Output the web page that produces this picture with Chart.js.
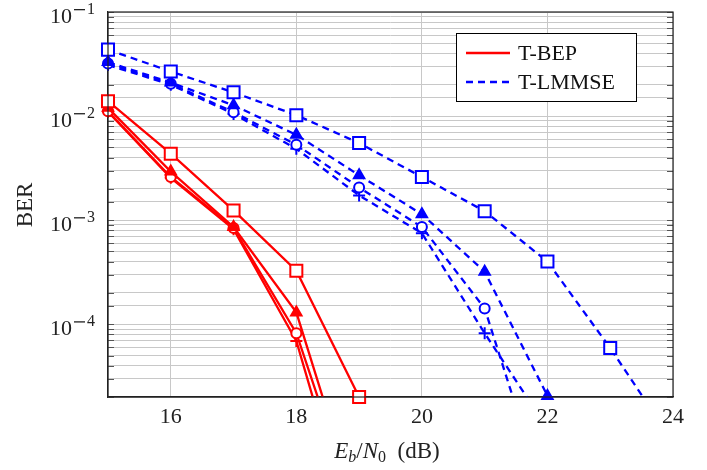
<!DOCTYPE html>
<html>
<head>
<meta charset="utf-8">
<script src="https://cdn.jsdelivr.net/npm/chart.js@4.4.1/dist/chart.umd.min.js"></script>
<style>
  html, body { margin: 0; padding: 0; background: #fff; }
  #wrap { width: 707px; height: 470px; }
</style>
</head>
<body>
<div id="wrap"><canvas id="ber"></canvas></div>
<script>
// Eb/N0 (dB)
const snrBep = [15, 16, 17, 18, 19];
const snrLmmse = [15, 16, 17, 18, 19, 20, 21, 22, 23, 24];

// T-BEP (solid red)
const bepSquare = [1.39e-2, 4.35e-3, 1.24e-3, 3.27e-4, 2.0e-5];
const bepTriangle = [1.2e-2, 2.93e-3, 8.6e-4, 1.3e-4, 1.5e-6];
const bepCircle = [1.11e-2, 2.6e-3, 8.4e-4, 8.2e-5, 1.3e-6];
const bepPlus = [1.1e-2, 2.55e-3, 8.2e-4, 6.9e-5, 6e-7];

// T-LMMSE (dashed blue)
const lmmseSquare = [4.35e-2, 2.68e-2, 1.69e-2, 1.02e-2, 5.5e-3, 2.6e-3, 1.22e-3, 4.0e-4, 5.9e-5, 7.4e-6];
const lmmseTriangle = [3.3e-2, 2.1e-2, 1.27e-2, 6.6e-3, 2.7e-3, 1.14e-3, 3.2e-4, 2.05e-5];
const lmmseCircle = [3.2e-2, 2.05e-2, 1.09e-2, 5.3e-3, 2.06e-3, 8.6e-4, 1.42e-4, 1.8e-6];
const lmmsePlus = [3.1e-2, 2.0e-2, 1.05e-2, 4.85e-3, 1.73e-3, 7.5e-4, 8.2e-5, 1.0e-5];

const xTicks = [16, 18, 20, 22, 24];
const yDecades = [-1, -2, -3, -4];
const legendNames = ["T-BEP", "T-LMMSE"];

const RED = "#ff0000";
const BLUE = "#0000ff";
const SERIF = "'Liberation Serif', 'DejaVu Serif', serif";

function pts(xs, ys) {
  return ys.map((y, i) => ({ x: xs[i], y: y }));
}

function series(xs, ys, color, dashed, style, clipBottom) {
  let r = 6, fill = "#fff";
  if (style === "rect") r = 8.5;
  if (style === "circle") r = 5;
  if (style === "triangle") { r = 6; fill = color; }
  return {
    data: pts(xs, ys),
    borderColor: color,
    backgroundColor: fill,
    borderWidth: 2.3,
    borderDash: dashed ? [7, 5] : [],
    pointStyle: style,
    pointRadius: r,
    pointHoverRadius: r,
    pointBorderWidth: 2,
    pointBorderColor: color,
    pointBackgroundColor: fill,
    tension: 0,
    fill: false,
    clip: clipBottom ? { left: 12, top: 12, right: 12, bottom: 0 } : false
  };
}

const datasets = [
  series(snrLmmse, lmmseSquare, BLUE, true, "rect", true),
  series(snrLmmse.slice(0, 8), lmmseTriangle, BLUE, true, "triangle", false),
  series(snrLmmse.slice(0, 8), lmmseCircle, BLUE, true, "circle", true),
  series(snrLmmse.slice(0, 8), lmmsePlus, BLUE, true, "cross", true),
  series(snrBep, bepSquare, RED, false, "rect", false),
  series(snrBep, bepTriangle, RED, false, "triangle", true),
  series(snrBep, bepCircle, RED, false, "circle", true),
  series(snrBep, bepPlus, RED, false, "cross", true)
];

const decorations = {
  id: "decorations",
  beforeDatasetsDraw(chart) {
    const ctx = chart.ctx;
    const a = chart.chartArea;
    const y = chart.scales.y;
    // inward minor ticks on left and right edges
    ctx.save();
    ctx.strokeStyle = "#555";
    ctx.lineWidth = 1;
    y.ticks.forEach(t => {
      const py = Math.round(y.getPixelForValue(t.value)) + 0.5;
      const len = Number.isInteger(Math.log10(t.value) + 1e-9) ? 0 : 6;
      if (!len) return;
      ctx.beginPath();
      ctx.moveTo(a.left, py); ctx.lineTo(a.left + len, py);
      ctx.moveTo(a.right, py); ctx.lineTo(a.right - len, py);
      ctx.stroke();
    });
    ctx.restore();
  },
  afterDraw(chart) {
    const ctx = chart.ctx;
    const a = chart.chartArea;
    const y = chart.scales.y;
    ctx.save();
    // frame
    ctx.strokeStyle = "#222";
    ctx.lineWidth = 1.2;
    ctx.strokeRect(a.left, a.top, a.right - a.left, a.bottom - a.top);

    // y tick labels 10^k
    ctx.fillStyle = "#222";
    yDecades.forEach(k => {
      const py = y.getPixelForValue(Math.pow(10, k));
      ctx.textBaseline = "alphabetic";
      ctx.font = "22px " + SERIF;
      ctx.textAlign = "right";
      ctx.fillText("10", 72, py + 11);
      ctx.font = "16px " + SERIF;
      ctx.textAlign = "left";
      ctx.fillRect(74, py - 3, 11, 1.3); // minus sign
      ctx.fillText(String(-k), 87, py + 2);
    });

    // y axis title
    ctx.save();
    ctx.translate(32, 205);
    ctx.rotate(-Math.PI / 2);
    ctx.font = "23px " + SERIF;
    ctx.textAlign = "center";
    ctx.textBaseline = "alphabetic";
    ctx.fillText("BER", 0, 0);
    ctx.restore();

    // x axis title  E_b/N_0 (dB)
    const parts = [
      { t: "E", f: "italic 23px " + SERIF, dy: 0 },
      { t: "b", f: "italic 16px " + SERIF, dy: 4 },
      { t: "/", f: "23px " + SERIF, dy: 0 },
      { t: "N", f: "italic 23px " + SERIF, dy: 0 },
      { t: "0", f: "16px " + SERIF, dy: 4 },
      { t: "  (dB)", f: "23px " + SERIF, dy: 0 }
    ];
    let total = 0;
    parts.forEach(p => { ctx.font = p.f; p.w = ctx.measureText(p.t).width; total += p.w; });
    let px = 387 - total / 2;
    ctx.textAlign = "left";
    parts.forEach(p => {
      ctx.font = p.f;
      ctx.fillText(p.t, px, 458 + p.dy);
      px += p.w;
    });

    // legend
    const lx = 456, ly = 33, lw = 180, lh = 68;
    ctx.fillStyle = "#fff";
    ctx.fillRect(lx, ly, lw, lh);
    ctx.strokeStyle = "#000";
    ctx.lineWidth = 1;
    ctx.strokeRect(lx + 0.5, ly + 0.5, lw, lh);
    const rows = [
      { name: legendNames[0], color: RED, dash: [], y: 53 },
      { name: legendNames[1], color: BLUE, dash: [7, 5], y: 82 }
    ];
    rows.forEach(r => {
      ctx.strokeStyle = r.color;
      ctx.lineWidth = 2.3;
      ctx.setLineDash(r.dash);
      ctx.beginPath();
      ctx.moveTo(466, r.y);
      ctx.lineTo(510, r.y);
      ctx.stroke();
      ctx.setLineDash([]);
      ctx.fillStyle = "#111";
      ctx.font = "22px " + SERIF;
      ctx.textBaseline = "middle";
      ctx.fillText(r.name, 518, r.y + 1);
    });
    ctx.restore();
  }
};

new Chart(document.getElementById("ber"), {
  type: "line",
  data: { datasets: datasets },
  options: {
    responsive: true,
    maintainAspectRatio: false,
    animation: false,
    events: [],
    layout: { padding: { top: 12, right: 34, left: 0, bottom: 0 } },
    plugins: {
      legend: { display: false },
      tooltip: { enabled: false }
    },
    scales: {
      x: {
        type: "linear",
        min: 15,
        max: 24,
        afterBuildTicks: s => { s.ticks = xTicks.map(v => ({ value: v })); },
        afterFit: s => { s.height = 73; },
        grid: { color: "#c8c8c8", lineWidth: 1, drawTicks: false },
        border: { display: true, color: "#222", width: 1.2 },
        ticks: {
          padding: 7,
          color: "#222",
          font: { family: SERIF, size: 22 },
          maxRotation: 0,
          autoSkip: false
        }
      },
      y: {
        type: "logarithmic",
        min: 2e-5,
        max: 0.1,
        afterFit: s => { s.width = 108; },
        grid: { color: "#c8c8c8", lineWidth: 1, drawTicks: false },
        border: { display: true, color: "#222", width: 1.2 },
        ticks: { display: false }
      }
    }
  },
  plugins: [decorations]
});
</script>
</body>
</html>
